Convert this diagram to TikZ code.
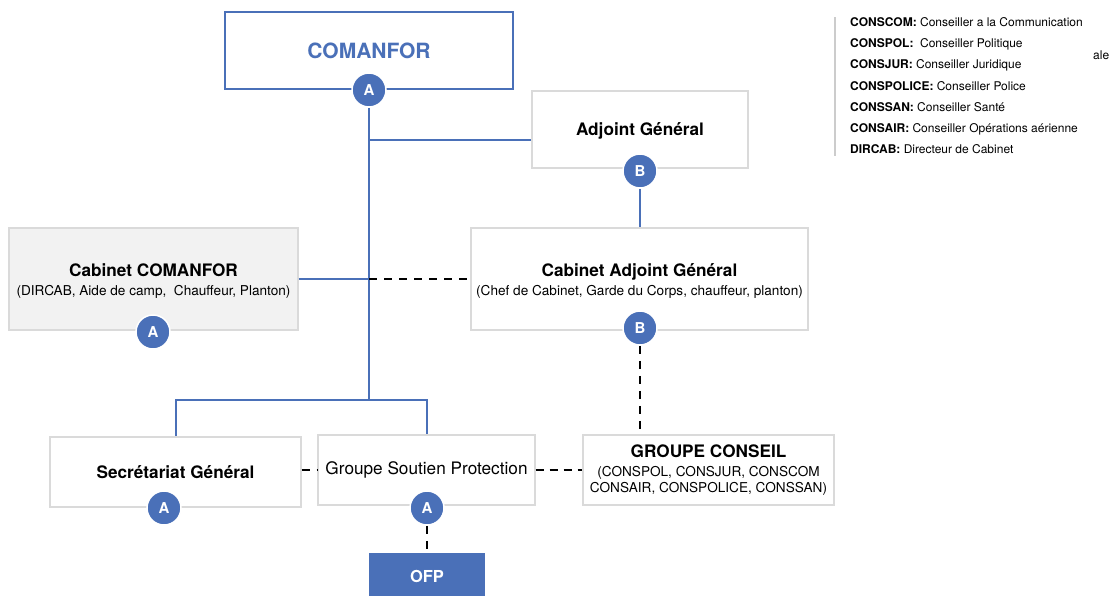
\documentclass[tikz,border=0pt]{standalone}
\usepackage{fontspec}
\setmainfont{TeX Gyre Heros}
\usetikzlibrary{calc}
\definecolor{orgblue}{RGB}{74,112,184}
\definecolor{boxgray}{RGB}{218,218,218}
\definecolor{cabfill}{RGB}{242,242,242}
\definecolor{legline}{RGB}{204,204,204}
\newcommand{\fsz}[1]{\fontsize{#1}{\fpeval{#1*1.2}}\selectfont}
\newcommand{\ttl}[1]{{\fsz{17.2}\bfseries #1}}
% tall strut: lowers a title a little inside its box
\newcommand{\lowstrut}{\rule{0pt}{16.6pt}}
\tikzset{
  unit/.style={draw=boxgray, line width=1.3pt, fill=white, inner sep=2pt, align=center, text=black,
               font=\fsz{13.6}},
  badge/.style={circle, fill=orgblue, draw=white, line width=1.5pt, minimum size=34pt, inner sep=0pt,
                text=white, font=\fsz{15}\bfseries},
  link/.style={draw=orgblue, line width=2.8pt},
  aux/.style={draw=black, line width=2.8pt, dash pattern=on 8pt off 7pt},
  legend/.style={anchor=base west, inner sep=0pt, font=\fsz{12}},
}
\begin{document}
\begin{tikzpicture}[x=1pt, y=-1pt]
\useasboundingbox (0,0) rectangle (1113,595);

% --- units ---
\node[unit, draw=orgblue, line width=2.6pt, minimum width=288pt, minimum height=77pt,
      text=orgblue, font=\fsz{21}\bfseries] (comanfor) at (369,50.5) {COMANFOR};
\node[unit, minimum width=216pt, minimum height=77pt]
      (adj) at (640,129.5) {\lowstrut\ttl{Adjoint Général}};
\node[unit, fill=cabfill, minimum width=289pt, minimum height=102pt] (cabc) at (153.5,279)
      {\lowstrut\ttl{Cabinet COMANFOR}\\[2.6pt](DIRCAB, Aide de camp,\ \ Chauffeur, Planton)};
\node[unit, minimum width=337pt, minimum height=102pt] (caba) at (639.5,279)
      {\lowstrut\ttl{Cabinet Adjoint Général}\\[2.6pt](Chef de Cabinet, Garde du Corps, chauffeur, planton)};
\node[unit, minimum width=251pt, minimum height=70pt]
      (sec) at (175.5,472) {\ttl{Secrétariat Général}};
\node[unit, minimum width=217pt, minimum height=70pt, font=\fsz{17.2}]
      (gsp) at (426.5,470) {Groupe Soutien Protection};
\node[unit, minimum width=251pt, minimum height=70pt] (gc) at (708.5,470)
      {\ttl{GROUPE CONSEIL}\\[3pt](CONSPOL, CONSJUR, CONSCOM\\[0.2pt]CONSAIR, CONSPOLICE, CONSSAN)};
\node[fill=orgblue, minimum width=116pt, minimum height=47pt, inner sep=0pt, anchor=north]
      (ofp) at (427,553) {};
\node[text=white, font=\fsz{16.5}\bfseries] (ofplabel) at (427,576) {OFP};

% --- junction points ---
\coordinate (jtop) at (369,140);
\coordinate (jcab) at (369,279);
\coordinate (jbot) at (369,400);
\coordinate (jl) at (176,400);
\coordinate (jr) at (427,400);

% --- badges ---
\node[badge] (ba1) at (369,90) {A};
\node[badge] (bb1) at (640,171) {B};
\node[badge] (ba2) at (153,332) {A};
\node[badge] (bb2) at (640,328) {B};
\node[badge] (ba3) at (164,508) {A};
\node[badge] (ba4) at (427,508) {A};

% --- solid hierarchy links ---
\draw[link] (ba1.south) -- (jbot);
\draw[link] (jtop) -- (jtop -| adj.west);
\draw[link] (cabc.east |- jcab) -- (jcab);
\draw[link, line cap=rect] (jl) -- (jr);
\draw[link] (jl) -- (jl |- sec.north);
\draw[link] (jr) -- (jr |- gsp.north);
\draw[link] (bb1.south) -- (bb1.south |- caba.north);

% --- dashed functional links ---
\draw[aux] (jcab) -- (caba.west |- jcab);
\draw[aux] (bb2.south) -- (bb2.south |- gc.north);
\draw[aux] (sec.east |- 0,470) -- (gsp.west |- 0,470);
\draw[aux, dash pattern=on 8pt off 6pt] (gsp.east |- 0,470) -- (gc.west |- 0,470);
\draw[aux] (ba4.south) -- (ofp.north);

% --- legend ---
\draw[legline, line width=2pt] (835,17) -- (835,156);
\node[legend] (l1) at (850,26.3)  {\textbf{CONSCOM:} Conseiller a la Communication};
\node[legend] (l2) at (850,47.3)  {\textbf{CONSPOL:}\ \ Conseiller Politique};
\node[legend] (l3) at (850,68.3)  {\textbf{CONSJUR:} Conseiller Juridique};
\node[legend] (l4) at (850,90.3)  {\textbf{CONSPOLICE:} Conseiller Police};
\node[legend] (l5) at (850,111.3) {\textbf{CONSSAN:} Conseiller Santé};
\node[legend] (l6) at (850,132.3) {\textbf{CONSAIR:} Conseiller Opérations aérienne};
\node[legend] (l7) at (850,153.3) {\textbf{DIRCAB:} Directeur de Cabinet};
\node[legend] (lx) at (1093,59.3) {ale};
\end{tikzpicture}
\end{document}
